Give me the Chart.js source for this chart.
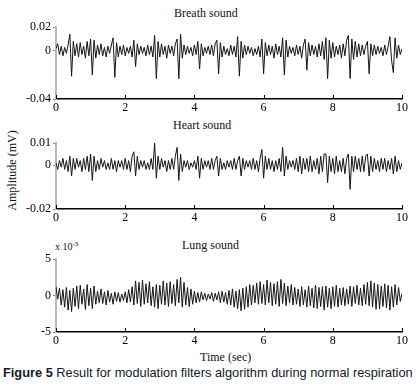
<!DOCTYPE html>
<html>
<head>
<meta charset="utf-8">
<script src="https://cdn.jsdelivr.net/npm/chart.js@4/dist/chart.umd.min.js"></script>
<style>
  body { margin: 0; background: #fff; width: 418px; height: 386px; position: relative; overflow: hidden; }
  canvas { position: absolute; left: 0; }
  .txt { position: absolute; font-family: "Liberation Serif", serif; font-size: 12px; color: #111; white-space: nowrap; }
</style>
</head>
<body>
<div class="txt" style="left:174px;top:6px;">Breath sound</div>
<div class="txt" style="left:173px;top:118px;">Heart sound</div>
<div class="txt" style="left:182px;top:238px;">Lung sound</div>
<div class="txt" style="left:55px;top:240px;font-size:10px;">x 10<sup style="font-size:7px;">-3</sup></div>
<div class="txt" style="left:200px;top:350px;">Time (sec)</div>
<div class="txt" style="left:-32px;top:163px;transform:rotate(-90deg);width:88px;text-align:center;">Amplitude (mV)</div>
<div class="txt" style="left:3px;top:365px;font-family:'Liberation Sans',Arial,sans-serif;font-size:12.8px;color:#111a2a;"><b>Figure 5</b> Result for modulation filters algorithm during normal respiration</div>

<canvas id="breath" width="418" height="116" style="top:0px"></canvas>
<canvas id="heart" width="418" height="110" style="top:116px"></canvas>
<canvas id="lung" width="418" height="123" style="top:226px"></canvas>

<script>
// sampling grid: 0..10 s
const sampleStep = 0.05;
const timeTicks = [0, 2, 4, 6, 8, 10];

const breathTicks = [-0.04, 0, 0.02];
const heartTicks = [-0.02, 0, 0.01];
const lungTicks = [-5, 0, 5]; // x 10^-3

// values
const breathSound = [
  0.002, 0.006, -0.003, 0.004, -0.004, 0.003, -0.002, 0.005, 0.014, -0.021, 0.008, -0.004, 0.006, -0.005, 0.007, -0.003, 0.004, -0.006, 0.008, -0.004,
  0.010, -0.020, 0.009, -0.006, 0.005, -0.003, 0.006, -0.004, 0.003, -0.005, 0.004, -0.002, 0.005, 0.011, -0.022, 0.007, -0.005, 0.004, -0.003, 0.005,
  -0.004, 0.003, -0.002, 0.004, -0.005, 0.009, -0.013, 0.006, -0.003, 0.004, -0.002, 0.003, -0.004, 0.005, -0.003, 0.004, -0.005, 0.013, -0.023, 0.008,
  -0.005, 0.006, -0.003, 0.004, -0.006, 0.005, -0.002, 0.004, -0.004, 0.006, 0.010, -0.023, 0.014, -0.006, 0.005, -0.003, 0.004, -0.002, 0.003, -0.004,
  0.005, -0.003, 0.008, -0.015, 0.006, -0.004, 0.003, -0.002, 0.004, -0.003, 0.005, -0.004, 0.006, 0.009, -0.019, 0.007, -0.005, 0.004, -0.003, 0.002,
  -0.004, 0.005, -0.003, 0.004, -0.005, 0.012, -0.021, 0.008, -0.006, 0.005, -0.003, 0.004, -0.002, 0.003, -0.004, 0.002, -0.003, 0.004, -0.005, 0.010,
  -0.019, 0.007, -0.004, 0.005, -0.003, 0.004, -0.006, 0.006, -0.003, 0.004, -0.005, 0.011, -0.020, 0.009, -0.005, 0.004, -0.002, 0.003, -0.004, 0.005,
  -0.003, 0.004, -0.006, 0.005, 0.010, -0.016, 0.007, -0.004, 0.005, -0.003, 0.004, -0.005, 0.006, -0.004, 0.008, -0.007, 0.011, -0.023, 0.009, -0.006,
  0.007, -0.005, 0.004, -0.003, 0.005, -0.006, 0.006, -0.004, 0.009, 0.013, -0.023, 0.010, -0.007, 0.008, -0.005, 0.006, -0.004, 0.005, -0.003, 0.004,
  0.008, -0.019, 0.006, -0.004, 0.005, -0.003, 0.004, -0.002, 0.003, -0.004, 0.005, -0.003, 0.004, 0.012, -0.008, -0.018, 0.011, -0.006, 0.005, -0.003, 0.002
];

const heartSound = [
  0.001, -0.002, 0.002, -0.001, 0.003, -0.002, 0.002, -0.003, 0.004, -0.005, 0.003, -0.002, 0.003, -0.001, 0.002, -0.003, 0.003, -0.002, 0.004, -0.003,
  0.005, -0.007, 0.004, -0.003, 0.002, -0.002, 0.003, -0.001, 0.002, -0.002, 0.001, -0.002, 0.003, -0.002, 0.002, -0.003, 0.002, -0.001, 0.002, -0.002,
  0.003, -0.002, 0.002, -0.003, 0.004, 0.006, -0.005, 0.004, -0.002, 0.002, -0.001, 0.002, -0.002, 0.001, -0.002, 0.003, -0.002, 0.010, -0.006, 0.004,
  -0.002, 0.003, -0.001, 0.002, -0.003, 0.002, -0.002, 0.003, -0.002, 0.004, 0.008, -0.007, 0.005, -0.003, 0.002, -0.001, 0.002, -0.002, 0.001, -0.001,
  0.002, -0.002, 0.004, -0.006, 0.003, -0.002, 0.002, -0.001, 0.002, -0.002, 0.003, -0.002, 0.002, 0.004, -0.005, 0.003, -0.002, 0.001, -0.002, 0.002,
  -0.001, 0.002, -0.002, 0.003, -0.002, 0.002, 0.004, -0.005, 0.003, -0.002, 0.002, -0.001, 0.002, -0.002, 0.003, -0.002, 0.002, -0.003, 0.003, 0.007,
  -0.006, 0.004, -0.002, 0.003, -0.002, 0.002, -0.003, 0.002, -0.002, 0.003, -0.003, 0.008, -0.005, 0.004, -0.002, 0.002, -0.001, 0.002, -0.002, 0.003,
  -0.003, 0.004, -0.004, 0.003, -0.002, 0.003, -0.003, 0.004, -0.003, 0.002, -0.002, 0.003, -0.004, 0.004, -0.003, 0.005, 0.005, -0.008, 0.004, -0.003,
  0.003, -0.004, 0.004, -0.003, 0.002, -0.003, 0.003, -0.004, 0.003, 0.005, -0.011, 0.004, -0.003, 0.004, -0.002, 0.003, -0.003, 0.004, -0.003, 0.004,
  0.005, -0.005, 0.004, -0.003, 0.003, -0.002, 0.002, -0.003, 0.003, -0.002, 0.003, -0.003, 0.002, -0.002, 0.003, -0.004, 0.004, -0.003, 0.002, -0.002, 0.001
];

const lungSound = [
  1.2, -0.5, 1.0, -1.3, 0.8, -1.6, 1.1, -2.0, 0.7, -2.2, 1.0, -1.5, 1.3, -1.8, 1.4, -1.2, 0.9, -1.9, 1.5, -1.4,
  1.0, -1.8, 1.3, -1.2, 0.6, -1.0, 0.9, -1.1, 0.5, -1.3, 0.7, -0.9, 0.3, -1.2, 0.5, -0.8, 0.4, -0.9, 0.2, -0.7,
  0.5, -1.0, 0.8, -0.9, 1.2, -1.3, 2.0, -1.1, 1.8, -1.5, 2.1, -1.2, 1.6, -1.0, 1.9, -1.4, 1.2, -1.6, 1.5, -1.8,
  1.4, -1.2, 2.0, -1.3, 1.7, -1.5, 1.9, -1.1, 1.5, -1.4, 2.2, -1.0, 2.5, -1.6, 1.8, -1.3, 1.1, -1.5, 0.9, -1.2,
  0.6, -1.0, 0.4, -0.9, 0.5, -0.6, 0.3, -0.7, 0.2, -0.5, 0.4, -0.8, 0.3, -0.6, 0.5, -1.0, 0.6, -0.9, 0.4, -1.2,
  0.7, -1.3, 0.9, -1.6, 0.6, -1.8, 0.8, -2.1, 1.0, -1.9, 1.2, -1.6, 1.5, -1.3, 1.4, -1.0, 1.7, -1.2, 1.9, -1.1,
  1.5, -1.3, 2.1, -1.0, 1.8, -1.4, 1.6, -1.2, 1.9, -1.5, 2.2, -1.1, 1.7, -1.4, 1.3, -1.0, 1.5, -1.3, 1.1, -1.2,
  0.9, -1.5, 1.2, -1.3, 0.8, -1.6, 1.3, -1.4, 1.0, -1.7, 1.4, -1.8, 1.1, -1.5, 1.2, -2.0, 1.3, -1.6, 1.0, -1.8,
  1.2, -1.5, 1.4, -1.6, 1.0, -1.3, 1.1, -1.4, 0.9, -1.2, 1.3, -1.5, 1.2, -1.1, 1.4, -1.3, 1.0, -1.4, 1.5, -1.2,
  1.8, -1.4, 2.0, -1.6, 1.7, -1.9, 1.5, -1.8, 1.3, -1.5, 1.6, -1.7, 1.4, -2.0, 1.2, -1.6, 1.5, -1.3, 1.1, -0.8, 0.3
];

const serif = { family: "'Liberation Serif', 'Times New Roman', serif", size: 12 };

// small tick marks on the time axis pointing up into the plot
const innerTicks = {
  id: "innerTicks",
  afterDraw(chart) {
    const { ctx, chartArea, scales } = chart;
    ctx.save();
    ctx.strokeStyle = "#000";
    ctx.lineWidth = 1;
    ctx.beginPath();
    timeTicks.forEach((t) => {
      const px = Math.round(scales.x.getPixelForValue(t)) + 0.5;
      ctx.moveTo(px, chartArea.bottom);
      ctx.lineTo(px, chartArea.bottom - 4);
    });
    ctx.stroke();
    ctx.restore();
  },
};

function makePanel(id, values, yTicks, padTop) {
  const points = values.map((v, i) => ({ x: +(i * sampleStep).toFixed(2), y: v }));
  return new Chart(document.getElementById(id), {
    type: "line",
    data: {
      datasets: [{
        data: points,
        borderColor: "#151515",
        borderWidth: 1,
        pointRadius: 0,
        tension: 0,
      }],
    },
    options: {
      responsive: false,
      animation: false,
      layout: { padding: { top: padTop, right: 16, left: 0, bottom: 0 } },
      plugins: { legend: { display: false }, tooltip: { enabled: false } },
      scales: {
        x: {
          type: "linear",
          min: 0,
          max: 10,
          afterFit: (s) => { s.height = 17; },
          afterBuildTicks: (s) => { s.ticks = timeTicks.map((v) => ({ value: v })); },
          ticks: { font: serif, color: "#000", maxRotation: 0, padding: 2 },
          grid: { drawOnChartArea: false, drawTicks: false },
          border: { color: "#000", width: 1.5 },
        },
        y: {
          min: yTicks[0],
          max: yTicks[yTicks.length - 1],
          afterFit: (s) => { s.width = 56; },
          afterBuildTicks: (s) => { s.ticks = yTicks.map((v) => ({ value: v })); },
          ticks: { font: serif, color: "#000", padding: 2 },
          grid: { drawOnChartArea: false, tickLength: 3, color: "#888" },
          border: { color: "#b8b8b8", width: 2 },
        },
      },
    },
    plugins: [innerTicks],
  });
}

makePanel("breath", breathSound, breathTicks, 27);
makePanel("heart", heartSound, heartTicks, 27);
makePanel("lung", lungSound, lungTicks, 33);
</script>
</body>
</html>
